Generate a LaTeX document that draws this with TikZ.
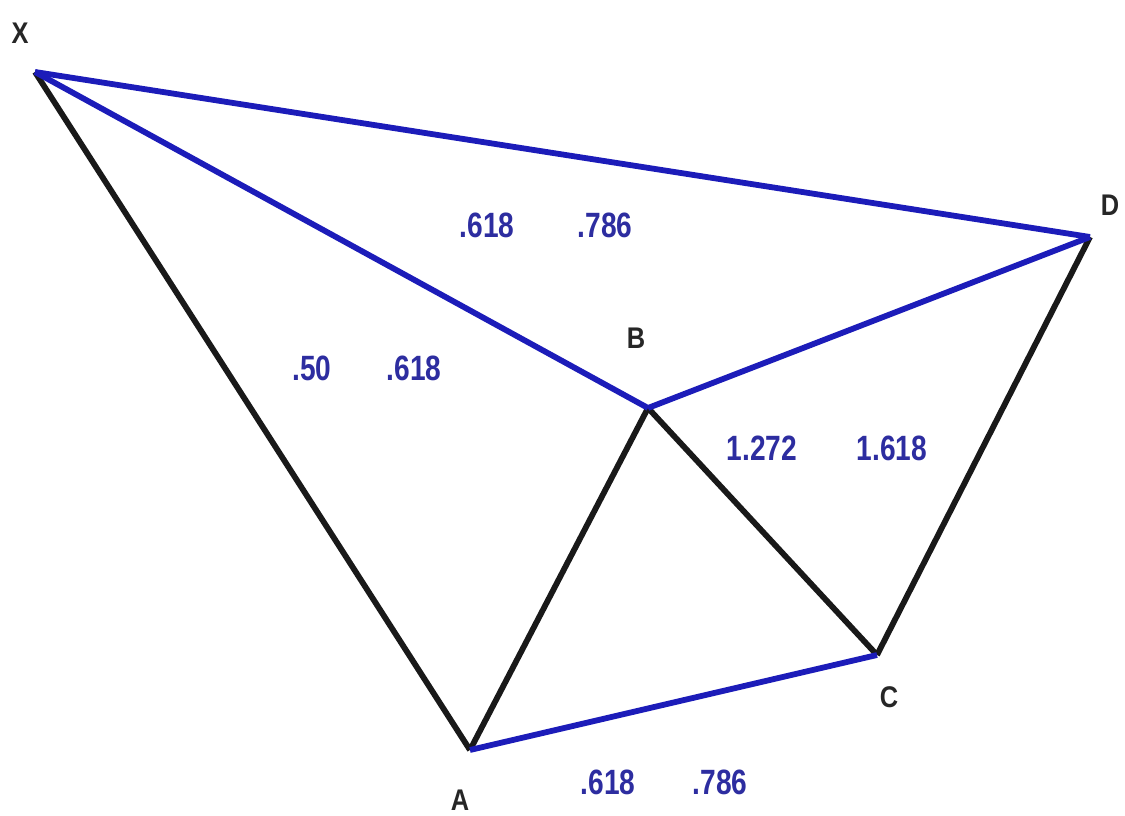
\documentclass[tikz,border=0pt]{standalone}
\usepackage{fontspec}
\setmainfont{Liberation Sans}
\newfontfamily\ratiofont[FakeStretch=0.8]{Liberation Sans}
\newfontfamily\pointfont[FakeStretch=0.85]{Liberation Sans}
\usepackage{tikz}
\usetikzlibrary{positioning, calc}
\usepackage{xcolor}
\definecolor{legblue}{RGB}{28,28,185}
\definecolor{ratioblue}{RGB}{45,45,160}

\begin{document}
\begin{tikzpicture}[
    leg/.style={line width=3.3pt, line join=miter, black!90},
    fibleg/.style={line width=3.3pt, line join=miter, legblue},
    ratio/.style={font=\ratiofont\bfseries\fontsize{20}{22}\selectfont, text=ratioblue, inner sep=0pt},
    point/.style={font=\pointfont\bfseries\fontsize{17}{19}\selectfont, text=black!85, inner sep=0pt}
]
\useasboundingbox (0,0) rectangle (22.5,16.32);

% Pattern points
\coordinate (X) at (0.70,14.88);
\coordinate (A) at (9.40,1.32);
\coordinate (B) at (12.96,8.16);
\coordinate (C) at (17.54,3.22);
\coordinate (D) at (21.80,11.58);

% Black legs
\draw[leg] (X) -- (A);
\draw[leg] (A) -- (B);
\draw[leg] (B) -- (C);
\draw[leg] (C) -- (D);

% Blue retracement lines
\draw[fibleg] (A) -- (C);
\draw[fibleg] (B) -- (D);
\draw[fibleg] (X) -- (B);
\draw[fibleg] (X) -- (D);

% Point labels
\node[point] (Xlab) at (0.40,15.66) {X};
\node[point] (Alab) at (9.20,0.32) {A};
\node[point] (Blab) at (12.72,9.56) {B};
\node[point] (Clab) at (17.78,2.38) {C};
\node[point] (Dlab) at (22.20,12.22) {D};

% Ratios
\node[ratio] (xdlo) at (9.74,11.82) {.618};
\node[ratio] (xdhi) at (12.10,11.82) {.786};
\node[ratio] (xblo) at (6.24,8.96) {.50};
\node[ratio] (xbhi) at (8.28,8.96) {.618};
\node[ratio] (bdlo) at (15.24,7.36) {1.272};
\node[ratio] (bdhi) at (17.84,7.36) {1.618};
\node[ratio] (aclo) at (12.16,0.68) {.618};
\node[ratio] (achi) at (14.40,0.68) {.786};

\end{tikzpicture}
\end{document}
